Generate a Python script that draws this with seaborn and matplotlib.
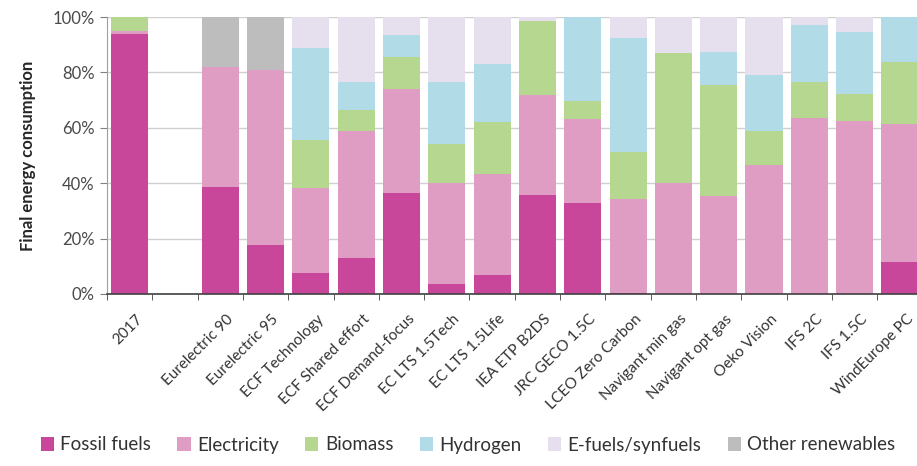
import numpy as np
import pandas as pd
import seaborn as sns
import matplotlib.pyplot as plt
import matplotlib.transforms as mtransforms
from matplotlib.patches import Patch

# scenario names (blank slot after 2017)
scenarios = ['2017', ' ', 'Eurelectric 90', 'Eurelectric 95', 'ECF Technology',
             'ECF Shared effort', 'ECF Demand-focus', 'EC LTS 1.5Tech', 'EC LTS 1.5Life',
             'IEA ETP B2DS', 'JRC GECO 1.5C', 'LCEO Zero Carbon', 'Navigant min gas',
             'Navigant opt gas', 'Oeko Vision', 'IFS 2C', 'IFS 1.5C', 'WindEurope PC']

# shares of final energy consumption (%)
fossil      = [94, 0, 38.6, 17.8, 7.5, 12.9, 36.4, 3.6, 7.0, 35.8, 32.9, 0.5, 0, 0, 0, 0, 0, 11.4]
electricity = [1, 0, 43.3, 62.9, 30.8, 45.8, 37.7, 36.4, 36.4, 36.1, 30.4, 33.8, 40.0, 35.5, 46.4, 63.6, 62.4, 50.0]
biomass     = [5, 0, 0, 0, 17.4, 7.8, 11.4, 14.2, 18.6, 26.7, 6.2, 17.1, 47.0, 39.8, 12.6, 12.9, 9.9, 22.3]
hydrogen    = [0, 0, 0, 0, 33.2, 10.0, 7.9, 22.3, 20.9, 0, 30.5, 41.1, 0, 12.0, 20.2, 20.5, 22.3, 16.3]
efuels      = [0, 0, 0, 0, 11.1, 23.5, 6.6, 23.5, 17.1, 1.4, 0, 7.5, 13.0, 12.7, 20.8, 3.0, 5.4, 0]
other_ren   = [0, 0, 18.1, 19.3, 0, 0, 0, 0, 0, 0, 0, 0, 0, 0, 0, 0, 0, 0]

sources = ['Fossil fuels', 'Electricity', 'Biomass', 'Hydrogen', 'E-fuels/synfuels', 'Other renewables']
colors = ['#C9479A', '#DF9DC4', '#B5D790', '#B0DBE7', '#E6E0EE', '#BDBDBD']
series = [fossil, electricity, biomass, hydrogen, efuels, other_ren]

sns.set_style('white')
plt.rcParams['font.family'] = ['Lato', 'DejaVu Sans']

fig = plt.figure(figsize=(9.17, 4.66), dpi=100)
ax = fig.add_axes([107 / 917, 172 / 466, 815.6 / 917, 277 / 466])

df = pd.DataFrame({'scenario': scenarios})
bottom = np.zeros(len(scenarios))
for name, vals, col in zip(sources, series, colors):
    df[name] = vals
    sns.barplot(data=df, x='scenario', y=name, order=scenarios, color=col,
                width=0.82, bottom=bottom, linewidth=0, saturation=1, ax=ax)
    bottom = bottom + np.array(vals)

ax.set_xlim(-0.5, len(scenarios) - 0.5)
ax.set_ylim(0, 100)
ax.set_yticks(np.arange(0, 101, 20))
ax.set_yticklabels([f'{v}%' for v in range(0, 101, 20)], fontsize=12, color='#4A4A4A')
ax.yaxis.grid(True, color='#D0D0D0', linewidth=1)
ax.set_axisbelow(True)
ax.set_ylabel('Final energy consumption', fontsize=12, fontweight='bold', color='#262626', labelpad=12)
ax.set_xlabel('')

for s in ['top', 'right']:
    ax.spines[s].set_visible(False)
ax.spines['left'].set_color('#A0A0A0')
ax.spines['bottom'].set_color('#404040')
ax.spines['bottom'].set_linewidth(1.2)
ax.tick_params(axis='y', left=True, length=5, color='#808080', pad=4)

# labels at centres, tick marks at category boundaries
ax.set_xticks(range(len(scenarios)))
ax.set_xticklabels(scenarios, rotation=45, ha='right', rotation_mode='anchor',
                   fontsize=11, color='#333333')
ax.set_xticks(np.arange(-0.5, len(scenarios), 1), minor=True)
ax.tick_params(axis='x', which='major', length=0, pad=13)
ax.tick_params(axis='x', which='minor', bottom=True, length=4, color='#404040')
shift = mtransforms.ScaledTranslation(0.06, 0, fig.dpi_scale_trans)
for lbl in ax.get_xticklabels():
    lbl.set_transform(lbl.get_transform() + shift)

handles = [Patch(facecolor=c, edgecolor='none', label=s) for s, c in zip(sources, colors)]
fig.legend(handles=handles, loc='center', bbox_to_anchor=(468 / 917, 1 - 445 / 466), ncol=6,
           frameon=False, fontsize=13.5, handlelength=0.7, handleheight=0.7,
           handletextpad=0.35, columnspacing=1.4, labelcolor='#333333')

fig.savefig('out.png', dpi=100)
